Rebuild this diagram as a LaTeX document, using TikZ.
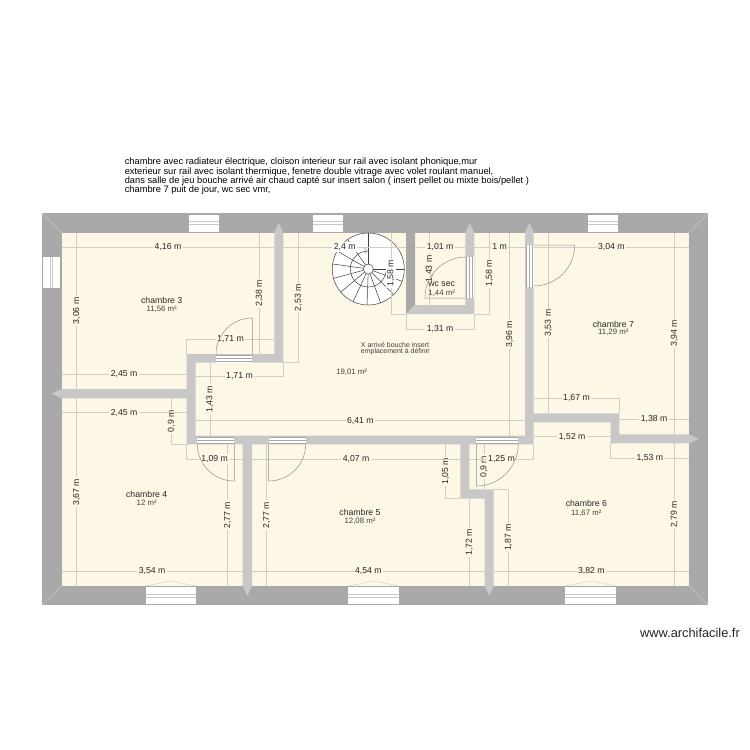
\documentclass[tikz,border=0pt]{standalone}
\usepackage{fontspec}
\setmainfont{Liberation Sans}
\definecolor{creme}{HTML}{FDF7E5}
\definecolor{murext}{HTML}{A9A9A9}
\definecolor{murint}{HTML}{C8C8C8}
\definecolor{cote}{HTML}{CFCFC8}
\definecolor{porte}{HTML}{8F8F8F}
\tikzset{
    murE/.style={fill=murext},
    murI/.style={fill=murint},
    cotel/.style={draw=cote,line width=0.5pt},
    txtH/.style={fill=creme,inner sep=1.5pt,font=\fontsize{8.7}{9}\selectfont,text=black!85},
    txtV/.style={txtH,rotate=90},
    piece/.style={font=\fontsize{8.7}{9}\selectfont,text=black!85,inner sep=0pt},
    surf/.style={font=\fontsize{7.8}{9}\selectfont,text=black!75,inner sep=0pt},
    note/.style={font=\fontsize{7}{8}\selectfont,text=black!75,inner sep=0pt,anchor=west},
    entete/.style={font=\fontsize{9.3}{10}\selectfont,text=black,inner sep=0pt,anchor=west},
    battant/.style={draw=porte,line width=0.5pt},
    vitre/.style={fill=white},
    barre/.style={draw=murint,line width=0.7pt},
    bande/.style={draw=black!35,line width=0.9pt},
    marche/.style={draw=black!75,line width=0.5pt},
    onglet/.style={draw=murint,line width=0.5pt}
}
\newcommand{\jambH}[4]{% x1 x2 y1 y2
    \fill[white] (#1,#3) rectangle (#2,#4);
    \draw[bande] (#1,#3+0.6) -- (#2,#3+0.6);
    \draw[bande] (#1,#3+3.7) -- (#2,#3+3.7);
    \draw[bande] (#1,#3+6.8) -- (#2,#3+6.8);
}
\newcommand{\jambV}[4]{% x1 x2 y1 y2
    \fill[white] (#1,#3) rectangle (#2,#4);
    \draw[bande] (#1+0.6,#3) -- (#1+0.6,#4);
    \draw[bande] (#1+3.7,#3) -- (#1+3.7,#4);
    \draw[bande] (#1+6.8,#3) -- (#1+6.8,#4);
}
\begin{document}
\begin{tikzpicture}[x=1pt,y=-1pt]
    \useasboundingbox (0,0) rectangle (750,750);
    \fill[white] (0,0) rectangle (750,750);
    % texte du haut
    \node[entete] (l1) at (124.6,161.7) {chambre avec radiateur électrique, cloison interieur sur rail avec isolant phonique,mur};
    \node[entete] (l2) at (124.6,171.7) {exterieur sur rail avec isolant thermique, fenetre double vitrage avec volet roulant manuel,};
    \node[entete] (l3) at (124.6,180.7) {dans salle de jeu bouche arrivé air chaud capté sur insert salon ( insert pellet ou mixte bois/pellet )};
    \node[entete] (l4) at (124.6,190) {chambre 7 puit de jour, wc sec vmr,};
    % murs exterieurs
    \fill[murE] (42,213.3) rectangle (708,605);
    \fill[creme] (61.7,232.7) rectangle (689,586);
    \draw[onglet] (42,213.3) -- (61.7,232.7);
    \draw[onglet] (708,213.3) -- (689,232.7);
    \draw[onglet] (42,605) -- (61.7,586);
    \draw[onglet] (708,605) -- (689,586);
    % fenetres
    \fill[vitre] (189,214.5) rectangle (219,232);
    \draw[barre] (189,221.7) -- (219,221.7);
    \draw[barre] (189,224.3) -- (219,224.3);
    \fill[vitre] (313,214.5) rectangle (343,232);
    \draw[barre] (313,221.7) -- (343,221.7);
    \draw[barre] (313,224.3) -- (343,224.3);
    \fill[vitre] (587.7,214.5) rectangle (618,232);
    \draw[barre] (587.7,221.7) -- (618,221.7);
    \draw[barre] (587.7,224.3) -- (618,224.3);
    \fill[vitre] (43,257) rectangle (60.3,287.7);
    \draw[barre] (50.2,257) -- (50.2,287.7);
    \draw[barre] (52.8,257) -- (52.8,287.7);
    \fill[vitre] (145.7,587) rectangle (196.3,604.3);
    \draw[barre] (145.7,594.3) -- (196.3,594.3);
    \draw[barre] (145.7,596.9) -- (196.3,596.9);
    \draw[cote] (145.7,586) -- (170.7,581) -- (196.3,586);
    \fill[vitre] (348.3,587) rectangle (399,604.3);
    \draw[barre] (348.3,594.3) -- (399,594.3);
    \draw[barre] (348.3,596.9) -- (399,596.9);
    \draw[cote] (348.3,586) -- (373.7,581) -- (399,586);
    \fill[vitre] (565.3,587) rectangle (616,604.3);
    \draw[barre] (565.3,594.3) -- (616,594.3);
    \draw[barre] (565.3,596.9) -- (616,596.9);
    \draw[cote] (565.3,586) -- (590.7,581) -- (616,586);
    % murs interieurs
    \fill[murI] (274.3,232.7) -- (278.8,222.7) -- (283.3,232.7) -- (283.3,362.7) -- (195.7,362.7) -- (195.7,435.7)
        -- (525,435.7) -- (525,232.7) -- (529.3,222.7) -- (533.7,232.7) -- (533.7,413.3) -- (619.3,413.3)
        -- (619.3,434.3) -- (689,434.3) -- (699,439) -- (689,443.3) -- (610.7,443.3) -- (610.7,422.3)
        -- (533.7,422.3) -- (533.7,444.3) -- (469.3,444.3) -- (469.3,489.3) -- (493.7,489.3) -- (493.7,586)
        -- (489.2,595.7) -- (484.7,586) -- (484.7,498.7) -- (460.3,498.7) -- (460.3,444.3) -- (252,444.3)
        -- (252,586) -- (247.3,596) -- (242.7,586) -- (242.7,444.3) -- (186.7,444.3) -- (186.7,398.3)
        -- (61.7,398.3) -- (51.7,393.7) -- (61.7,389) -- (186.7,389) -- (186.7,354) -- (274.3,354) -- cycle;
    \fill[murE] (406,232.7) -- (415,232.7) -- (415,305) -- (406,314) -- cycle;
    \fill[murI] (406,314) -- (415,305) -- (465.3,305) -- (465.3,232.7) -- (469.8,223.3) -- (474.3,232.7) -- (474.3,314) -- cycle;
    % escalier
    \coordinate (esc) at (368.3,269);
    \fill[white] (esc) circle[radius=36pt];
    \draw[marche] (esc) circle[radius=36pt];
    \draw[marche] ([shift={(90:18pt)}]esc) arc[start angle=90,end angle=360,radius=18pt];
    \foreach \ang in {90,125,150,172,195,220,245,268,290,315,340,360}
        \draw[marche,shift={(esc)}] (\ang:5pt) -- (\ang:36pt);
    \fill[white] (esc) circle[radius=5pt];
    \draw[marche] (esc) circle[radius=5pt];
    \draw[draw=black!45,line width=0.4pt] (364.5,248) -- (366.8,251) -- (364.5,254);
    % cotes verticales
    \draw[cotel] (76.7,232.7) -- node[txtV] (b1) {3,06 m} (76.7,389);
    \draw[cotel] (76.7,398.3) -- node[txtV] (b2) {3,67 m} (76.7,586);
    \draw[cotel] (259.3,232.7) -- node[txtV] (b3) {2,38 m} (259.3,354);
    \draw[cotel] (298.3,232.7) -- node[txtV] (b4) {2,53 m} (298.3,362.7) -- (283.3,362.7);
    \draw[cotel] (171.3,398.3) -- node[txtV] (b5) {0,9 m} (171.3,444.3) -- (186.7,444.3);
    \draw[cotel] (210,362.7) -- node[txtV] (b6) {1,43 m} (210,435.7);
    \draw[cotel] (227.7,444.3) -- node[txtV] (b7) {2,77 m} (227.7,586);
    \draw[cotel] (266.7,444.3) -- node[txtV] (b8) {2,77 m} (266.7,586);
    \draw[cotel] (445.7,444.3) -- node[txtV] (b9) {1,05 m} (445.7,498.7) -- (460.3,498.7);
    \draw[cotel] (484,444.3) -- node[txtV] (b10) {0,9 m} (484,489.3);
    \draw[cotel] (469.3,498.7) -- node[txtV] (b11) {1,72 m} (469.3,586);
    \draw[cotel] (493.7,489.3) -- (508.3,489.3) -- node[txtV] (b12) {1,87 m} (508.3,586);
    \draw[cotel] (674.3,443.3) -- node[txtV] (b13) {2,79 m} (674.3,586);
    \draw[cotel] (674.3,232.7) -- node[txtV] (b14) {3,94 m} (674.3,434.3);
    \draw[cotel] (548.3,232.7) -- node[txtV] (b15) {3,53 m} (548.3,413.3);
    \draw[cotel] (509.7,232.7) -- node[txtV] (b16) {3,96 m} (509.7,435.7);
    \draw[cotel] (429.3,232.7) -- node[txtV] (b17) {1,43 m} (429.3,305);
    \draw[cotel] (489.3,232.7) -- node[txtV] (b18) {1,58 m} (489.3,314) -- (474.3,314);
    \draw[cotel] (391,232.7) -- node[txtV,fill=white] (b19) {1,58 m} (391,314) -- (406,314);
    % cotes horizontales
    \draw[cotel] (61.7,247.3) -- node[txtH] (a1) {4,16 m} (274.3,247.3);
    \draw[cotel] (283.3,247.3) -- node[txtH,fill=white] (a2) {2,4 m} (406,247.3);
    \draw[cotel] (415,247) -- node[txtH] (a3) {1,01 m} (465.3,247);
    \draw[cotel] (474.3,247) -- node[txtH] (a4) {1 m} (525,247);
    \draw[cotel] (533.7,247) -- node[txtH] (a5) {3,04 m} (689,247);
    \draw[cotel] (406,314) -- (406,329) -- node[txtH] (a6) {1,31 m} (474.3,329) -- (474.3,314);
    \draw[cotel] (186.7,354) -- (186.7,339) -- node[txtH] (a7) {1,71 m} (274.3,339);
    \draw[cotel] (195.7,376) -- node[txtH] (a8) {1,71 m} (283.3,376) -- (283.3,362.7);
    \draw[cotel] (61.7,374.3) -- node[txtH] (a9) {2,45 m} (186.7,374.3);
    \draw[cotel] (61.7,412.7) -- node[txtH] (a10) {2,45 m} (186.7,412.7);
    \draw[cotel] (195.7,420.7) -- node[txtH] (a11) {6,41 m} (525,420.7);
    \draw[cotel] (186.7,444.3) -- (186.7,459) -- node[txtH] (a12) {1,09 m} (242.7,459);
    \draw[cotel] (252,459) -- node[txtH] (a13) {4,07 m} (460.3,459);
    \draw[cotel] (469.3,459) -- node[txtH] (a14) {1,25 m} (533.7,459) -- (533.7,444.3);
    \draw[cotel] (533.7,436.7) -- node[txtH] (a15) {1,52 m} (610.7,436.7);
    \draw[cotel] (533.7,398) -- node[txtH] (a16) {1,67 m} (619.3,398) -- (619.3,413.3);
    \draw[cotel] (619.3,419.3) -- node[txtH] (a17) {1,38 m} (689,419.3);
    \draw[cotel] (610.7,443.3) -- (610.7,458.3) -- node[txtH] (a18) {1,53 m} (689,458.3);
    \draw[cotel] (61.7,571) -- node[txtH] (a19) {3,54 m} (242.7,571);
    \draw[cotel] (252,571) -- node[txtH] (a20) {4,54 m} (484.7,571);
    \draw[cotel] (493.7,571) -- node[txtH] (a21) {3,82 m} (689,571);
    % portes
    \jambH{216}{252.3}{354.5}{362.5}
    \draw[battant] (252.3,354) -- (252.3,318) arc[start angle=90,end angle=180,radius=36.3pt];
    \jambH{197.3}{234.3}{436.5}{444}
    \draw[battant] (234.3,444) -- (234.3,481) arc[start angle=270,end angle=180,radius=37pt];
    \jambH{268.7}{305.7}{436.5}{444}
    \draw[battant] (268.7,444) -- (268.7,481) arc[start angle=270,end angle=360,radius=37pt];
    \jambH{476.3}{518.3}{436.5}{444}
    \draw[battant] (476.3,444) -- (476.3,486) arc[start angle=270,end angle=360,radius=42pt];
    \jambV{525.5}{533.5}{245}{286.7}
    \draw[battant] (533.7,245) -- (574.7,245) arc[start angle=0,end angle=-90,radius=41pt];
    \jambV{466}{474}{257.3}{298}
    \draw[battant] (466,298) -- (425,298) arc[start angle=180,end angle=90,radius=41pt];
    % pieces
    \node[piece] (ch3) at (161.7,300) {chambre 3};
    \node[surf] (s3) at (161.7,309) {11,56 m²};
    \node[piece] (ch4) at (146.7,494) {chambre 4};
    \node[surf] (s4) at (146.7,502.5) {12 m²};
    \node[piece] (ch5) at (360,512.7) {chambre 5};
    \node[surf] (s5) at (360,521) {12,08 m²};
    \node[piece] (ch6) at (586.3,503.7) {chambre 6};
    \node[surf] (s6) at (586.3,513) {11,67 m²};
    \node[piece] (ch7) at (613.3,324) {chambre 7};
    \node[surf] (s7) at (613.3,332) {11,29 m²};
    \node[piece] (wc) at (441.7,284) {wc sec};
    \node[surf] (swc) at (441.7,293) {1,44 m²};
    \node[surf] (sj) at (351.7,372.7) {19,01 m²};
    \node[note] (n1) at (360.7,345) {X arrivé bouche insert};
    \node[note] (n2) at (360.7,352) {emplacement à définir};
    \node[font=\fontsize{12.8}{14}\selectfont,text=black!85,inner sep=0pt,anchor=east] (site) at (740,632.7) {www.archifacile.fr};
\end{tikzpicture}
\end{document}
